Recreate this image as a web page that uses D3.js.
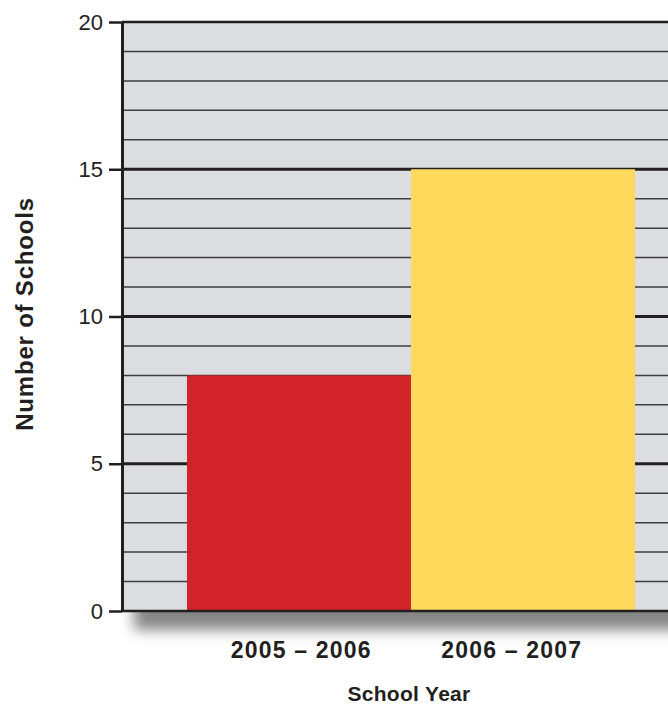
<!DOCTYPE html>
<html>
<head>
<meta charset="utf-8">
<script src="https://cdn.jsdelivr.net/npm/d3@7"></script>
<style>
  body { margin: 0; background: #fff; }
  svg { display: block; }
  text { font-family: "Liberation Sans", Arial, sans-serif; fill: #231f20; }
</style>
</head>
<body>
<div class="graphContainer"></div>
<script>
// chart data
var years = ["2005 \u2013 2006", "2006 \u2013 2007"];
var schools = [8, 15];
var barColors = ["#d2232a", "#fed95c"];
var yTicks = [0, 5, 10, 15, 20];
var gridValues = d3.range(1, 20);

var w = 668, h = 705;
var plotLeft = 122, plotRight = 668, plotTop = 22, plotBottom = 611;

var y = d3.scaleLinear().domain([0, 20]).range([plotBottom, plotTop]);
var x = d3.scaleBand().domain(years).range([187, 635]).paddingInner(0);
// labels sit a little closer together than the bars
var xLabel = d3.scaleBand().domain(years).range([196, 617]);

var svg = d3.select(".graphContainer")
    .append("svg")
    .attr("width", w)
    .attr("height", h);

var defs = svg.append("defs");
defs.append("filter")
    .attr("id", "shadow")
    .attr("x", "-20%").attr("y", "-20%")
    .attr("width", "140%").attr("height", "140%")
    .append("feGaussianBlur")
    .attr("stdDeviation", 7);

// drop shadow under the plot
svg.append("rect")
    .attr("x", plotLeft + 12)
    .attr("y", plotTop + 10)
    .attr("width", plotRight - plotLeft + 40)
    .attr("height", plotBottom - plotTop + 9)
    .attr("fill", "#858585")
    .attr("filter", "url(#shadow)");

// plot background
svg.append("rect")
    .attr("x", plotLeft)
    .attr("y", plotTop)
    .attr("width", plotRight - plotLeft + 10)
    .attr("height", plotBottom - plotTop)
    .attr("fill", "#dcdde0");

// grid lines
svg.append("g").selectAll("line")
    .data(gridValues)
    .enter()
    .append("line")
    .attr("x1", plotLeft)
    .attr("x2", plotRight + 10)
    .attr("y1", function (d) { return y(d); })
    .attr("y2", function (d) { return y(d); })
    .attr("stroke", function (d) { return d % 5 === 0 ? "#231f20" : "#3e3d40"; })
    .attr("stroke-width", function (d) { return d % 5 === 0 ? 3 : 1.5; });

// bars
svg.append("g").selectAll("rect")
    .data(schools)
    .enter()
    .append("rect")
    .attr("x", function (d, i) { return x(years[i]); })
    .attr("y", function (d) { return y(d); })
    .attr("width", x.bandwidth())
    .attr("height", function (d) { return y(0) - y(d); })
    .attr("fill", function (d, i) { return barColors[i]; });

// top border
svg.append("line")
    .attr("x1", plotLeft).attr("x2", plotRight + 10)
    .attr("y1", y(20)).attr("y2", y(20))
    .attr("stroke", "#231f20").attr("stroke-width", 2.5);

// bottom axis line
svg.append("line")
    .attr("x1", plotLeft).attr("x2", plotRight + 10)
    .attr("y1", y(0)).attr("y2", y(0))
    .attr("stroke", "#231f20").attr("stroke-width", 2.5);

// left axis
var axis = d3.axisLeft(y)
    .tickValues(yTicks)
    .tickSize(13)
    .tickPadding(6)
    .tickSizeOuter(0);

var gy = svg.append("g")
    .attr("transform", "translate(" + plotLeft + ",0)")
    .call(axis);
gy.select(".domain").attr("stroke", "#231f20").attr("stroke-width", 3);
gy.selectAll(".tick line").attr("stroke", "#231f20").attr("stroke-width", 2.5);
gy.selectAll(".tick text")
    .attr("font-family", "Liberation Sans, Arial, sans-serif")
    .attr("font-size", 22)
    .attr("fill", "#231f20");

// category labels
svg.append("g").selectAll("text")
    .data(years)
    .enter()
    .append("text")
    .attr("x", function (d) { return xLabel(d) + xLabel.bandwidth() / 2; })
    .attr("y", 658)
    .attr("text-anchor", "middle")
    .attr("font-size", 23)
    .attr("font-weight", "bold")
    .style("letter-spacing", "1.2px")
    .text(function (d) { return d; });

// axis titles
svg.append("text")
    .attr("x", 409)
    .attr("y", 701)
    .attr("text-anchor", "middle")
    .attr("font-size", 21)
    .attr("font-weight", "bold")
    .style("letter-spacing", "0.3px")
    .text("School Year");

svg.append("text")
    .attr("transform", "translate(33,314) rotate(-90)")
    .attr("text-anchor", "middle")
    .attr("font-size", 24)
    .attr("font-weight", "bold")
    .style("letter-spacing", "0.8px")
    .text("Number of Schools");
</script>
</body>
</html>
